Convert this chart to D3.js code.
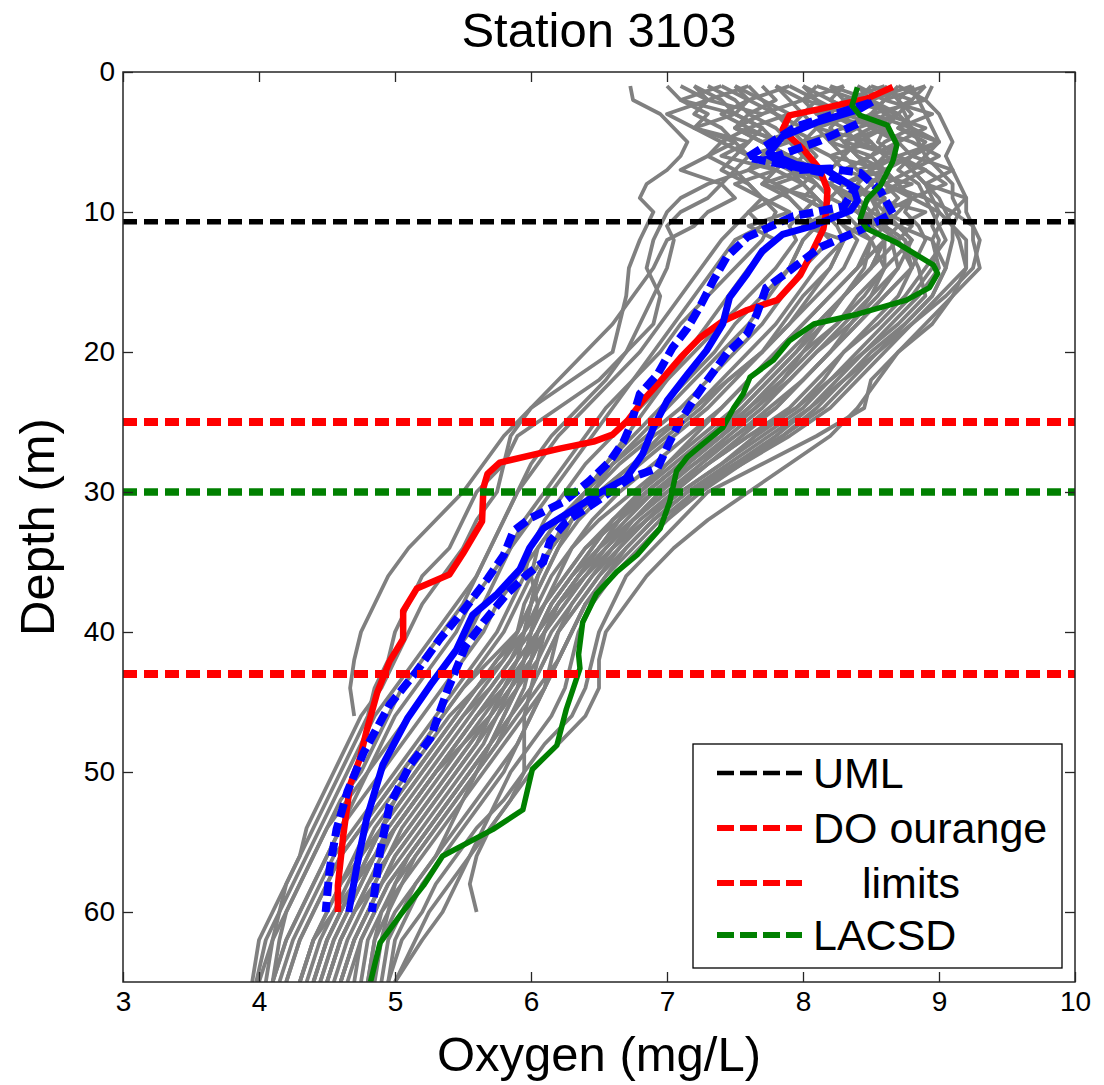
<!DOCTYPE html>
<html>
<head>
<meta charset="utf-8">
<script src="https://cdn.jsdelivr.net/npm/d3@7"></script>
<style>
  body { margin: 0; background: #fff; }
  svg { display: block; }
  text { font-family: "Liberation Sans", Arial, Helvetica, sans-serif; fill: #000; }
</style>
</head>
<body>
<svg id="chart" width="1104" height="1085"></svg>
<script>
// ---- axis ticks ----
const xTicks = [3, 4, 5, 6, 7, 8, 9, 10];
const yTicks = [0, 10, 20, 30, 40, 50, 60];

// ---- reference depths (m) ----
const umlDepth = 10.7;
const ouLimitDepths = [25, 43];
const lacsdLimitDepth = 30;

// ---- individual casts: oxygen (mg/L) sampled on castDepths ----
const castDepths = [1,2,3,4,5,6,7,8,9,10,11,12,14,16,18,20,22,24,26,28,30,32,34,36,38,40,42,44,46,48,50,52,54,56,58,60,62,65];
const casts = [
  [6.73,6.75,6.95,7.05,7.15,7.1,7.0,6.85,6.8,6.9,6.85,6.8,6.72,6.7,6.65,6.6,6.3,6.0,5.85,5.8,5.6,5.5,5.4,5.2,5.1,5.0,4.95,4.85,4.8,4.7,4.6,4.5,4.4,4.3,4.2,4.1,4.0,3.95],
  [7.2,7.3,7.2,7.4,7.5,7.6,7.5,7.4,7.5,7.3,7.2,7.0,6.9,6.75,6.6,6.4,6.2,6.0,5.8,5.65,5.5,5.3,5.1,4.95,4.85,4.75,4.7,4.67,4.7,null,null,null,null,null,null,null,null,null],
  [7.4,7.6,7.5,7.7,7.8,7.7,7.6,7.3,7.1,7.0,6.95,6.9,6.85,6.95,6.9,6.7,6.5,6.2,5.9,5.8,5.75,5.6,5.5,5.35,5.2,5.1,5.0,4.9,4.75,4.65,4.55,4.45,4.35,4.3,4.2,4.15,4.1,4.05],
  [8.95,8.9,9.0,9.05,9.1,9.05,9.1,9.15,9.2,9.2,9.25,9.25,9.3,9.1,8.95,8.7,8.5,8.45,8.1,7.7,7.3,7.1,6.9,6.7,6.6,6.5,6.45,6.4,6.3,6.1,5.95,5.8,5.6,5.45,5.3,5.2,5.05,4.95],
  [8.8,8.85,8.9,8.95,9.0,8.9,9.0,9.1,9.1,9.15,9.1,9.2,9.2,9.0,8.8,8.6,8.4,8.2,7.9,7.55,7.2,7.0,6.8,6.6,6.4,6.3,6.2,6.1,5.95,5.8,5.65,5.5,5.35,5.2,5.05,4.9,4.8,4.75],
  [8.6,8.7,8.8,8.7,8.9,8.8,8.7,8.85,8.9,8.95,9.0,9.05,8.9,8.75,8.55,8.3,8.15,7.95,7.6,7.3,7.05,6.85,6.65,6.5,6.35,6.2,6.1,6.0,5.85,5.7,5.55,5.4,5.25,5.1,4.95,4.85,4.75,4.65],
  [8.4,8.5,8.6,8.5,8.7,8.8,8.6,8.7,8.8,8.75,8.85,8.9,8.8,8.6,8.4,8.2,8.0,7.8,7.5,7.2,6.95,6.75,6.55,6.4,6.2,6.1,6.0,5.85,5.7,5.55,5.4,5.25,5.1,4.95,4.85,4.75,4.65,4.55],
  [8.2,8.3,8.2,8.4,8.5,8.6,8.5,8.6,8.7,8.6,8.7,8.8,8.6,8.4,8.25,8.05,7.85,7.6,7.35,7.1,6.85,6.6,6.45,6.3,6.15,6.05,5.95,5.8,5.6,5.45,5.3,5.15,5.0,4.9,4.8,4.7,4.6,4.5],
  [8.0,8.1,8.3,8.2,8.3,8.4,8.5,8.4,8.5,8.6,8.5,8.6,8.5,8.3,8.1,7.9,7.7,7.5,7.25,7.0,6.75,6.5,6.3,6.2,6.1,6.0,5.85,5.7,5.5,5.35,5.2,5.05,4.9,4.8,4.7,4.6,4.5,4.4],
  [7.8,7.9,8.0,8.1,8.0,8.2,8.3,8.2,8.4,8.5,8.4,8.5,8.4,8.2,8.0,7.8,7.6,7.4,7.15,6.9,6.65,6.45,6.3,6.15,6.05,5.95,5.75,5.6,5.4,5.25,5.1,4.95,4.8,4.7,4.6,4.5,4.4,4.3],
  [7.6,7.7,7.8,7.9,8.0,8.1,8.0,8.2,8.3,8.3,8.4,8.3,8.2,8.0,7.85,7.7,7.5,7.3,7.05,6.8,6.55,6.35,6.2,6.1,6.0,5.9,5.7,5.5,5.35,5.2,5.05,4.9,4.75,4.6,4.5,4.4,4.3,4.2],
  [7.9,8.1,8.0,7.9,8.1,8.0,7.9,8.1,8.2,8.15,8.25,8.3,8.1,7.95,7.8,7.6,7.4,7.2,6.95,6.75,6.5,6.3,6.15,6.05,6.0,5.95,5.85,5.7,5.55,5.4,5.25,5.1,4.95,4.85,4.75,4.65,4.55,4.45],
  [8.5,8.4,8.3,8.1,8.2,8.3,8.4,8.5,8.6,8.6,8.7,8.6,8.5,8.3,8.1,7.95,7.75,7.55,7.3,7.05,6.8,6.6,6.45,6.3,6.15,6.05,6.0,5.95,5.85,5.75,5.6,5.45,5.3,5.15,5.0,4.9,4.85,4.8],
  [8.7,8.6,8.5,8.6,8.55,8.7,8.8,8.9,8.95,9.0,8.95,9.0,8.95,8.8,8.6,8.4,8.2,8.0,7.7,7.4,7.1,6.85,6.65,6.45,6.3,6.15,6.05,5.9,5.75,5.6,5.45,5.3,5.15,5.0,4.9,4.8,4.7,4.6],
  [8.3,8.2,8.4,8.5,8.3,8.4,8.6,8.5,8.4,8.5,8.5,8.6,8.4,8.2,8.0,7.8,7.6,7.4,7.2,7.0,6.8,6.65,6.5,6.35,6.2,6.1,6.05,6.0,5.95,5.95,5.95,5.85,5.7,5.6,5.55,5.6,null,null],
  [7.3,7.5,7.6,7.5,7.7,7.9,7.8,7.7,7.9,8.0,7.9,7.95,7.8,7.6,7.4,7.2,7.0,6.8,6.6,6.4,6.25,6.1,6.0,5.95,5.85,5.75,5.6,5.45,5.3,5.15,5.0,4.85,4.7,4.55,4.45,4.35,4.25,4.15],
  [7.0,7.1,7.3,7.2,7.4,7.3,7.5,7.6,7.7,7.8,7.75,7.7,7.5,7.3,7.1,6.95,6.75,6.55,6.4,6.25,6.1,5.95,5.85,5.7,5.55,5.45,5.3,5.15,5.0,4.9,4.8,4.7,4.6,4.5,4.4,4.3,4.2,4.1],
  [8.8,8.7,8.75,8.8,8.6,8.5,8.6,8.7,8.5,8.4,8.55,8.7,8.8,8.7,8.5,8.3,8.1,7.9,7.6,7.3,7.0,6.75,6.55,6.35,6.2,6.05,5.9,5.75,5.6,5.45,5.3,5.15,5.0,4.85,4.7,4.6,4.5,4.4],
  [8.1,8.0,8.1,8.3,8.4,8.3,8.2,8.3,8.5,8.55,8.6,8.65,8.7,8.55,8.35,8.1,7.9,7.7,7.45,7.2,6.9,6.65,6.4,6.25,6.1,5.95,5.8,5.6,5.45,5.3,5.15,5.0,4.85,4.75,4.65,4.55,4.45,4.35],
  [7.5,7.6,7.4,7.6,7.8,7.7,7.9,8.0,8.1,8.2,8.1,8.0,7.9,7.7,7.5,7.35,7.15,6.95,6.75,6.55,6.4,6.25,6.15,6.05,5.95,5.9,5.8,5.65,5.5,5.35,5.2,5.05,4.9,4.75,4.6,4.5,4.4,4.3],
  [8.6,8.5,8.7,8.8,8.85,8.9,8.8,8.9,9.0,9.05,9.1,9.1,9.05,8.95,8.75,8.55,8.35,8.15,7.85,7.5,7.15,6.9,6.7,6.5,6.35,6.2,6.1,6.0,5.85,5.7,5.55,5.4,5.25,5.1,5.0,4.95,4.9,4.85],
  [7.2,7.4,7.5,7.7,7.6,7.5,7.4,7.6,7.7,7.6,7.5,7.4,7.25,7.1,6.95,6.8,6.6,6.4,6.2,6.05,5.9,5.8,5.7,5.6,5.5,5.35,5.2,5.05,4.95,4.85,4.75,4.6,4.5,4.4,4.3,4.2,4.1,4.0],
  [8.9,8.8,8.7,8.6,8.7,8.6,8.5,8.4,8.3,8.4,8.5,8.6,8.6,8.45,8.25,8.0,7.8,7.6,7.4,7.15,6.9,6.7,6.5,6.35,6.2,6.1,5.95,5.8,5.65,5.5,5.35,5.2,5.05,4.95,4.85,4.7,4.6,4.5],
  [8.4,8.6,8.5,8.3,8.0,7.9,8.0,8.1,8.0,8.2,8.3,8.4,8.3,8.1,7.9,7.7,7.45,7.25,7.0,6.75,6.5,6.3,6.15,6.05,6.0,5.95,5.9,5.8,5.7,5.6,5.45,5.3,5.15,5.0,4.9,4.8,4.7,4.6],
  [7.7,7.8,7.6,7.8,7.9,8.0,8.1,8.0,8.1,8.0,8.1,8.2,8.0,7.85,7.7,7.5,7.3,7.1,6.85,6.6,6.4,6.2,6.05,6.0,6.05,6.0,5.95,5.85,5.7,5.5,5.3,5.15,5.0,4.85,4.7,4.55,4.4,4.3],
  [8.0,8.2,8.4,8.6,8.7,8.5,8.3,8.2,8.35,8.45,8.6,8.75,8.85,8.9,8.7,8.45,8.2,7.95,7.65,7.4,7.1,6.85,6.6,6.4,6.25,6.1,6.0,5.9,5.8,5.7,5.6,5.5,5.4,5.3,5.15,5.05,4.95,4.9],
  [7.6,7.3,7.7,7.5,7.9,7.6,8.0,7.7,8.1,8.2,8.0,8.3,8.2,8.05,7.9,7.7,7.45,7.2,6.9,6.65,6.45,6.3,6.2,6.1,6.0,5.9,5.75,5.6,5.45,5.3,5.15,5.0,4.9,4.8,4.7,4.6,4.5,4.4],
  [8.9,8.6,8.95,8.7,9.0,8.8,9.1,8.9,9.2,9.1,9.25,9.3,9.25,9.05,8.8,8.55,8.3,8.05,7.75,7.45,7.15,6.9,6.7,6.55,6.4,6.3,6.2,6.05,5.9,5.75,5.6,5.45,5.3,5.15,5.05,4.95,4.85,4.8],
  [8.2,8.5,8.1,8.6,8.3,8.7,8.4,8.8,8.5,8.9,8.7,8.95,9.0,8.85,8.65,8.45,8.25,8.05,7.8,7.5,7.2,6.95,6.75,6.55,6.4,6.3,6.2,6.1,6.0,5.9,5.75,5.6,5.45,5.3,5.15,5.0,4.9,4.8],
  [7.4,7.1,7.5,7.2,7.6,7.4,7.8,7.5,7.7,7.9,7.6,7.8,7.6,7.45,7.3,7.15,7.0,6.85,6.7,6.55,6.4,6.2,6.05,5.9,5.75,5.65,5.5,5.35,5.2,5.05,4.9,4.75,4.6,4.5,4.4,4.3,4.2,4.1],
  [8.5,8.8,8.6,8.9,8.7,8.6,8.9,8.7,8.8,8.6,8.8,8.7,8.5,8.3,8.15,8.0,7.85,7.65,7.4,7.15,6.95,6.75,6.6,6.45,6.3,6.2,6.15,6.1,6.0,5.9,5.8,5.65,5.5,5.35,5.2,5.1,5.0,4.95],
  [7.9,7.6,7.8,8.0,7.7,7.9,8.1,7.8,8.0,8.2,8.3,8.5,8.6,8.5,8.35,8.2,8.0,7.8,7.55,7.3,7.05,6.8,6.6,6.4,6.25,6.1,6.0,5.85,5.7,5.55,5.4,5.25,5.1,4.95,4.8,4.7,4.6,4.5],
  [8.7,8.9,8.5,8.8,9.0,8.7,8.9,9.05,8.8,9.0,9.1,9.15,9.2,9.1,8.9,8.7,8.55,8.4,8.2,7.9,7.6,7.3,7.05,6.85,6.7,6.55,6.5,6.5,6.4,6.2,6.0,5.85,5.7,5.55,5.4,5.25,5.15,5.0],
  [7.1,7.3,7.0,7.2,7.5,7.3,7.1,7.4,7.3,7.1,7.0,7.05,7.0,6.9,6.8,6.7,6.55,6.35,6.15,6.0,5.9,5.8,5.7,5.6,5.45,5.3,5.15,5.0,4.85,4.75,4.65,4.55,4.45,4.35,4.25,4.15,4.05,3.98],
  [8.3,8.0,8.4,8.1,8.5,8.2,8.6,8.3,8.2,8.4,8.6,8.75,8.8,8.6,8.4,8.2,8.0,7.75,7.5,7.25,7.0,6.75,6.5,6.3,6.15,6.05,5.9,5.75,5.6,5.45,5.3,5.15,5.0,4.85,4.75,4.65,4.55,4.45],
  [8.6,8.3,8.7,8.4,8.2,8.5,8.3,8.6,8.8,8.7,8.6,8.5,8.45,8.3,8.15,7.95,7.75,7.55,7.35,7.1,6.85,6.65,6.5,6.35,6.2,6.05,5.95,5.85,5.75,5.65,5.5,5.35,5.2,5.05,4.9,4.8,4.7,4.6],
  [7.8,8.0,7.7,7.5,7.7,7.9,7.6,7.8,7.9,8.0,8.1,8.0,7.9,7.75,7.6,7.4,7.2,7.0,6.8,6.6,6.45,6.3,6.15,6.0,5.9,5.8,5.65,5.5,5.35,5.2,5.05,4.9,4.75,4.6,4.5,4.4,4.3,4.2],
  [8.1,8.4,8.7,8.5,8.8,9.0,8.8,8.6,8.9,9.1,9.0,8.95,9.05,8.95,8.75,8.5,8.3,8.1,7.85,7.55,7.25,7.0,6.8,6.6,6.45,6.35,6.3,6.25,6.15,6.0,5.85,5.75,5.65,5.55,5.45,5.35,5.2,5.0],
  [7.5,7.7,7.9,7.6,7.4,7.6,7.8,8.0,7.8,7.6,7.7,7.5,7.35,7.2,7.05,6.9,6.75,6.6,6.45,6.3,6.15,6.0,5.85,5.75,5.65,5.55,5.4,5.25,5.1,4.95,4.8,4.65,4.5,4.4,4.3,4.2,4.15,4.1],
  [8.8,8.5,8.3,8.6,8.4,8.7,8.5,8.3,8.6,8.5,8.7,8.8,8.7,8.5,8.3,8.1,7.9,7.65,7.4,7.1,6.85,6.6,6.4,6.25,6.1,6.0,5.95,5.9,5.8,5.7,5.55,5.4,5.25,5.1,4.95,4.85,4.75,4.7]
];

// ---- DO ourange profile (red) ----
const ouO2    = [8.66,8.47,8.12,7.9,7.85,7.9,8.0,8.12,8.18,8.17,8.15,8.07,7.98,7.81,7.59,7.41,7.24,7.10,6.95,6.82,6.71,6.60,6.46,6.21,5.77,5.68,5.65,5.64,5.5,5.40,5.16,5.06,5.06,4.96,4.87,4.79,4.74,4.67,4.62,4.58,4.58];
const ouDepth = [1.07,1.9,2.65,3.1,4.1,4.6,5.5,6.9,8.4,10.0,11.2,12.8,14.5,16.3,17.0,17.8,19.0,20.4,22.1,23.5,24.9,25.9,26.4,26.9,27.9,28.7,29.7,32.1,34.4,35.9,36.9,38.5,40.5,42.1,44.3,47.1,49.1,50.9,54.5,58.1,60];

// ---- station mean profile (blue) and its bounds (blue dashed) ----
const meanO2    = [8.51,8.42,8.1,7.85,7.75,7.95,8.17,8.37,8.40,8.35,8.07,7.85,7.70,7.59,7.46,7.41,7.29,7.15,7.0,6.90,6.82,6.70,6.48,6.29,6.09,5.99,5.92,5.75,5.57,5.45,5.26,5.09,4.91,4.79,4.72,4.66];
const meanDepth = [2.15,2.65,3.6,4.6,5.8,6.6,7.0,8.2,9.2,9.9,11.0,11.6,12.8,14.4,16.1,18.0,19.9,21.6,23.5,25.4,27.3,29.0,30.2,31.4,32.6,34.0,35.5,37.3,38.8,41.3,43.8,46.2,49.5,53.4,56.7,60];
const lowerO2    = [8.49,7.95,7.59,7.85,8.15,8.38,8.30,7.93,7.59,7.44,7.34,7.24,7.15,7.04,6.93,6.80,6.73,6.68,6.58,6.43,6.24,5.99,5.87,5.80,5.68,5.50,5.33,5.16,4.96,4.77,4.65,4.57,4.52,4.49];
const lowerDepth = [2.2,3.9,6.1,6.6,7.2,8.3,9.6,10.3,11.8,13.2,14.9,16.8,18.3,19.7,21.6,23.0,25.3,26.4,27.8,29.2,30.7,31.9,32.8,34.5,36.2,38.5,40.5,42.8,45.2,48.6,51.4,54.1,56.9,60];
const upperO2    = [8.4,8.13,7.78,7.96,8.2,8.42,8.57,8.66,8.42,8.13,7.9,7.73,7.66,7.59,7.44,7.29,7.19,7.10,7.02,6.93,6.73,6.48,6.26,6.14,6.09,5.97,5.82,5.65,5.52,5.38,5.26,5.11,4.96,4.89,4.83];
const upperDepth = [3.7,4.9,6.1,7.0,6.9,7.2,8.5,10.1,11.3,12.5,14.2,15.4,17.3,18.7,20.1,22.1,23.5,24.9,26.4,28.3,29.0,30.7,32.1,33.5,35.0,35.9,37.3,39.3,41.0,44.3,47.6,49.5,52.4,55.7,60];

// ---- LACSD profile (green) ----
const lacsdO2    = [8.40,8.36,8.42,8.62,8.69,8.66,8.57,8.47,8.42,8.47,8.69,8.96,8.99,8.93,8.76,8.40,8.08,7.9,7.78,7.61,7.56,7.49,7.41,7.26,7.15,7.07,7.02,6.95,6.78,6.63,6.48,6.38,6.35,6.36,6.26,6.19,6.01,5.94,5.72,5.35,5.21,5.04,4.89,4.82];
const lacsdDepth = [1.1,2.4,3.1,3.8,5.2,6.4,8.1,9.1,10.5,11.2,12.2,13.8,14.4,15.4,16.3,17.3,18.0,19.2,20.6,21.8,23.0,24.0,25.4,26.6,27.5,28.5,30.7,32.6,34.5,35.7,37.3,39.3,41.6,42.6,45.5,48.1,49.8,52.7,54.1,56.0,58.1,60.2,62.2,65];

// ---- legend ----
const legendLabels = ["UML", "DO ourange", "limits", "LACSD"];
const legendColors = ["#000000", "#ff0000", "#ff0000", "#008000"];

// ---- layout ----
const margin = { left: 123, top: 72, right: 29, bottom: 103 };
const W = 1104, H = 1085;
const pw = W - margin.left - margin.right;
const ph = H - margin.top - margin.bottom;

const svg = d3.select("#chart");
const g = svg.append("g").attr("transform", `translate(${margin.left},${margin.top})`);

const x = d3.scaleLinear().domain([3, 10]).range([0, pw]);
const y = d3.scaleLinear().domain([0, 65]).range([0, ph]);

g.append("clipPath").attr("id", "plotClip")
  .append("rect").attr("width", pw).attr("height", ph);

const plot = g.append("g").attr("clip-path", "url(#plotClip)");

const line = d3.line()
  .defined(d => d[0] != null)
  .x(d => x(d[0]))
  .y(d => y(d[1]));

// individual casts
plot.append("g")
  .selectAll("path")
  .data(casts)
  .join("path")
  .attr("d", c => line(c.map((v, i) => [v, castDepths[i]])))
  .attr("fill", "none")
  .attr("stroke", "#808080")
  .attr("stroke-width", 3.8)
  .attr("stroke-linejoin", "round");

const zip = (a, b) => a.map((v, i) => [v, b[i]]);

plot.append("path").attr("d", line(zip(ouO2, ouDepth)))
  .attr("fill", "none").attr("stroke", "#ff0000").attr("stroke-width", 6.5)
  .attr("stroke-linejoin", "round");

plot.append("path").attr("d", line(zip(lowerO2, lowerDepth)))
  .attr("fill", "none").attr("stroke", "#0000ff").attr("stroke-width", 8)
  .attr("stroke-dasharray", "14 6");
plot.append("path").attr("d", line(zip(upperO2, upperDepth)))
  .attr("fill", "none").attr("stroke", "#0000ff").attr("stroke-width", 8)
  .attr("stroke-dasharray", "14 6");
plot.append("path").attr("d", line(zip(meanO2, meanDepth)))
  .attr("fill", "none").attr("stroke", "#0000ff").attr("stroke-width", 7)
  .attr("stroke-linejoin", "round");

plot.append("path").attr("d", line(zip(lacsdO2, lacsdDepth)))
  .attr("fill", "none").attr("stroke", "#008000").attr("stroke-width", 5.5)
  .attr("stroke-linejoin", "round");

// reference depth lines
const hLine = (d, color, w) => plot.append("line")
  .attr("x1", 0).attr("x2", pw)
  .attr("y1", y(d)).attr("y2", y(d))
  .attr("stroke", color).attr("stroke-width", w)
  .attr("stroke-dasharray", "14 7");

hLine(umlDepth, "#000000", 5.5);
ouLimitDepths.forEach(d => hLine(d, "#ff0000", 8));
hLine(lacsdLimitDepth, "#008000", 7.5);

// axes with inward ticks on all four sides
const axisColor = "#262626";
const styleAxis = sel => {
  sel.select(".domain").remove();
  sel.selectAll(".tick line").attr("stroke", axisColor).attr("stroke-width", 1.3);
  sel.selectAll(".tick text").style("font-size", "28px").attr("fill", "#000");
};

g.append("g").attr("transform", `translate(0,${ph})`)
  .call(d3.axisBottom(x).tickValues(xTicks).tickSize(-10).tickPadding(9).tickFormat(d3.format("d")))
  .call(styleAxis);
g.append("g")
  .call(d3.axisTop(x).tickValues(xTicks).tickSize(-10).tickFormat(""))
  .call(styleAxis);
g.append("g")
  .call(d3.axisLeft(y).tickValues(yTicks).tickSize(-10).tickPadding(8).tickFormat(d3.format("d")))
  .call(styleAxis);
g.append("g").attr("transform", `translate(${pw},0)`)
  .call(d3.axisRight(y).tickValues(yTicks).tickSize(-10).tickFormat(""))
  .call(styleAxis);

g.append("rect")
  .attr("width", pw).attr("height", ph)
  .attr("fill", "none").attr("stroke", axisColor).attr("stroke-width", 1.5);

// titles
svg.append("text")
  .attr("x", margin.left + pw / 2).attr("y", 47)
  .attr("text-anchor", "middle")
  .style("font-size", "49px")
  .text("Station 3103");

svg.append("text")
  .attr("x", margin.left + pw / 2).attr("y", 1071)
  .attr("text-anchor", "middle")
  .style("font-size", "49px")
  .text("Oxygen (mg/L)");

svg.append("text")
  .attr("transform", `translate(54,${margin.top + ph / 2}) rotate(-90)`)
  .attr("text-anchor", "middle")
  .style("font-size", "49px")
  .text("Depth (m)");

// legend
const lg = svg.append("g").attr("transform", "translate(693,744)");
lg.append("rect").attr("width", 369).attr("height", 224)
  .attr("fill", "#fff").attr("stroke", "#000").attr("stroke-width", 1.3);

const rowY = [29, 84, 139, 191];
const rows = lg.selectAll("g.row")
  .data(legendLabels)
  .join("g")
  .attr("class", "row")
  .attr("transform", (d, i) => `translate(0,${rowY[i]})`);

rows.append("line")
  .attr("x1", 24).attr("x2", 109)
  .attr("stroke", (d, i) => legendColors[i])
  .attr("stroke-width", (d, i) => i === 0 ? 4.5 : 6)
  .attr("stroke-dasharray", "17 6");

rows.append("text")
  .attr("x", (d, i) => i === 2 ? 169 : 120)
  .attr("y", 15)
  .style("font-size", "43px")
  .text(d => d);
</script>
</body>
</html>
